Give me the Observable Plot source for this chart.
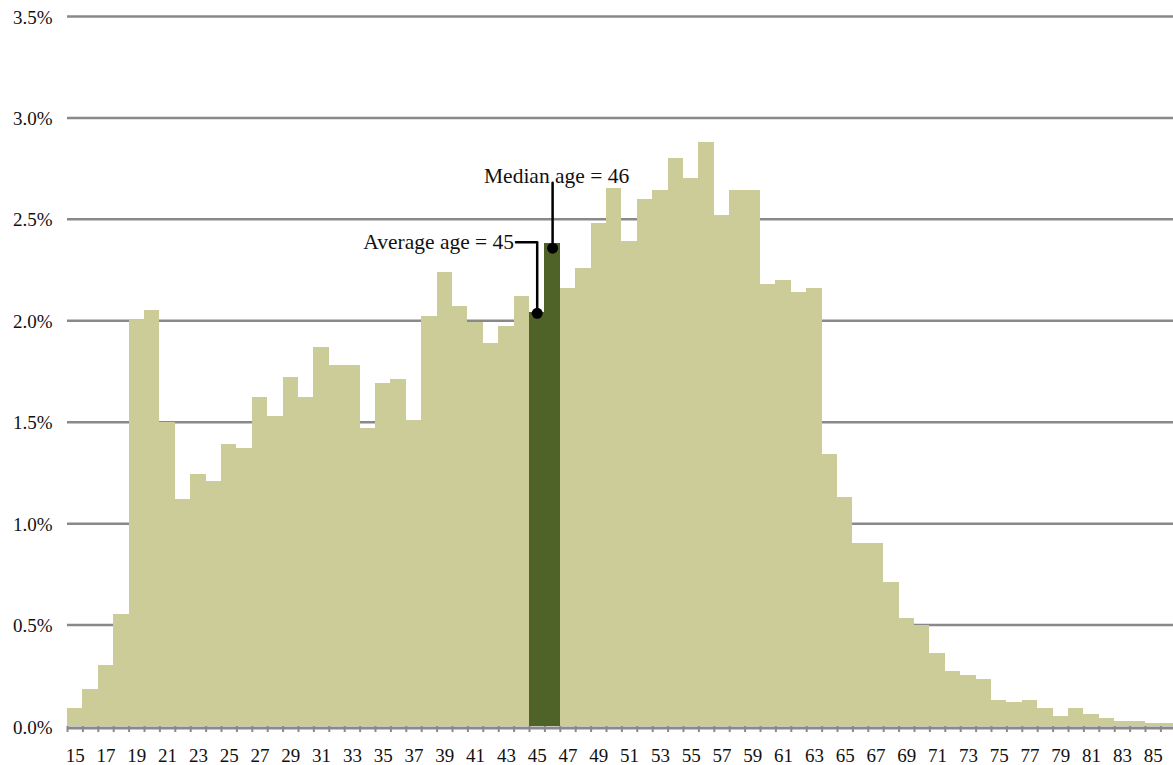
<!DOCTYPE html>
<html>
<head>
<meta charset="utf-8">
<script src="https://cdn.jsdelivr.net/npm/d3@7"></script>
<script src="https://cdn.jsdelivr.net/npm/@observablehq/plot@0.6"></script>
<style>
  html, body { margin: 0; padding: 0; background: #fff; overflow: hidden; }
  #chart svg { overflow: hidden; display: block; }
</style>
</head>
<body>
<div id="chart"></div>
<script>
// Ages 15..86 and share of population (%) at each age
const ages = d3.range(15, 87);
const shares = [
  0.09, 0.18, 0.30, 0.55, 2.00, 2.05, 1.50, 1.12, 1.24, 1.21,
  1.39, 1.37, 1.62, 1.53, 1.72, 1.62, 1.87, 1.78, 1.78, 1.47,
  1.69, 1.71, 1.51, 2.02, 2.24, 2.07, 1.99, 1.89, 1.97, 2.12,
  2.04, 2.38, 2.16, 2.26, 2.48, 2.65, 2.39, 2.60, 2.64, 2.80,
  2.70, 2.88, 2.52, 2.64, 2.64, 2.18, 2.20, 2.14, 2.16, 1.34,
  1.13, 0.90, 0.90, 0.71, 0.53, 0.50, 0.36, 0.27, 0.25, 0.23,
  0.13, 0.12, 0.13, 0.09, 0.05, 0.09, 0.06, 0.04, 0.025, 0.025,
  0.016, 0.015
];
const highlightAges = [45, 46];
const yTicks = [0, 0.5, 1.0, 1.5, 2.0, 2.5, 3.0, 3.5];
const xLabelAges = d3.range(15, 87, 2);
const tickBoundaries = d3.range(14.5, 87, 1);

// Annotations: average and median
const avgLabel = "Average age = 45";
const avgAge = 45;
const avgDotValue = 2.037;
const avgLabelValue = 2.387;
const avgLabelAge = 43.5;
const avgElbowStartAge = 43.62;

const medLabel = "Median age = 46";
const medAge = 46;
const medDotValue = 2.358;
const medLabelValue = 2.68;

const data = ages.map((age, i) => ({age, value: shares[i], hi: highlightAges.includes(age)}));

const light = "#CCCC99";
const dark = "#4F6228";
const gridGray = "#898989";
const font = "'Liberation Serif', 'Times New Roman', serif";

const avgPath = [
  {x: avgElbowStartAge, y: avgLabelValue},
  {x: avgAge, y: avgLabelValue},
  {x: avgAge, y: avgDotValue}
];
const medPath = [
  {x: medAge, y: medDotValue},
  {x: medAge, y: medLabelValue}
];

const chart = Plot.plot({
  width: 1173,
  height: 765,
  marginLeft: 67,
  marginRight: 0,
  marginTop: 16,
  marginBottom: 39,
  style: {fontFamily: font, fontSize: "19px", color: "#111", background: "#fff"},
  x: {type: "linear", domain: [14.5, 86.5], range: [67, 67 + 72 * 15.4], label: null},
  y: {domain: [0, 3.5], label: null},
  marks: [
    Plot.ruleY(yTicks.filter(t => t > 0), {stroke: gridGray, strokeWidth: 2.5}),
    Plot.rectY(data.filter(d => !d.hi), {x1: d => d.age - 0.5, x2: d => d.age + 0.5, y: "value", fill: light, shapeRendering: "crispEdges"}),
    Plot.rectY(data.filter(d => d.hi), {x1: d => d.age - 0.5, x2: d => d.age + 0.5, y: "value", fill: dark, shapeRendering: "crispEdges"}),
    Plot.ruleY([0], {stroke: gridGray, strokeWidth: 3, dy: 1.5}),
    Plot.axisY({ticks: yTicks, tickSize: 0, tickPadding: 15, tickFormat: d => d.toFixed(1) + "%", fontSize: 19, dy: 1, label: null}),
    Plot.axisX({ticks: tickBoundaries, tickSize: 6, tickFormat: () => "", stroke: gridGray, strokeWidth: 2, label: null}),
    Plot.axisX({ticks: xLabelAges, tickSize: 0, tickPadding: 22, tickFormat: d => String(d), fontSize: 19, label: null}),
    Plot.line(avgPath, {x: "x", y: "y", stroke: "#000", strokeWidth: 2.5, curve: "linear"}),
    Plot.line(medPath, {x: "x", y: "y", stroke: "#000", strokeWidth: 2.5}),
    Plot.dot([{x: avgAge, y: avgDotValue}, {x: medAge, y: medDotValue}], {x: "x", y: "y", r: 5.5, fill: "#000", stroke: "none"}),
    Plot.text([avgLabel], {x: avgLabelAge, y: avgLabelValue, text: d => d, textAnchor: "end", lineAnchor: "middle", fontSize: 21.5, fill: "#111"}),
    Plot.text([medLabel], {x: medAge, y: medLabelValue, text: d => d, textAnchor: "middle", lineAnchor: "bottom", dx: 4, fontSize: 21.5, fill: "#111"})
  ]
});
document.getElementById("chart").appendChild(chart);
</script>
</body>
</html>
